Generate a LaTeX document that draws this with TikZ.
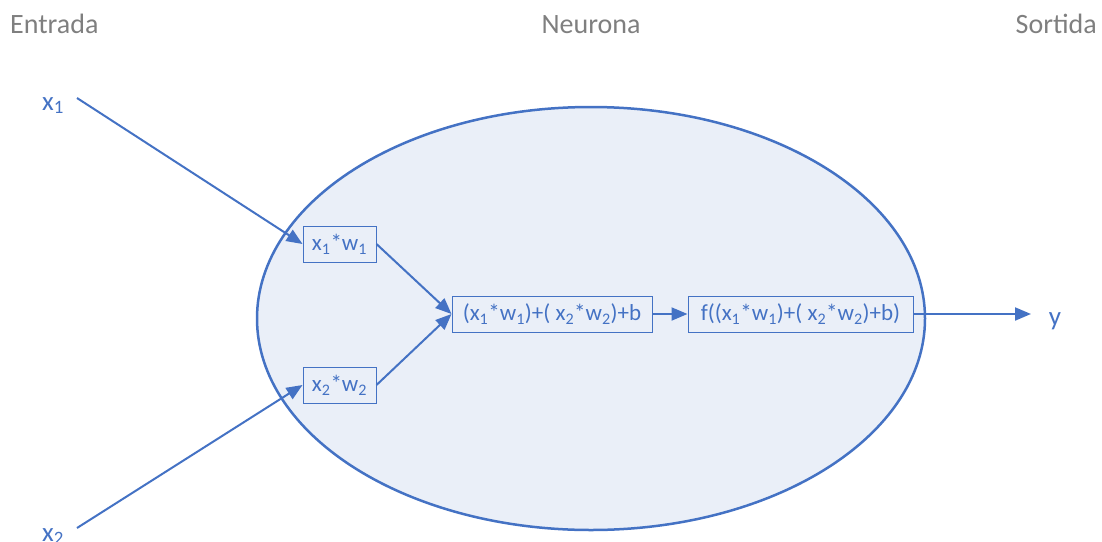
\documentclass[tikz,border=0pt]{standalone}
\usepackage{fontspec}
\setmainfont{Carlito}
\usetikzlibrary{arrows.meta,shapes.geometric}
\definecolor{cblue}{HTML}{4472C4}
\definecolor{cgray}{HTML}{7F7F7F}
\definecolor{cfill}{HTML}{EAEFF8}
\tikzset{
  hdr/.style={text=cgray, font=\fontsize{28}{32}\selectfont, inner sep=0pt},
  lbl/.style={text=cblue, font=\fontsize{27}{30}\selectfont, inner sep=0pt},
  opbox/.style={draw=cblue, line width=1pt, fill=cfill, text=cblue, font=\fontsize{23}{26}\selectfont, minimum height=36pt, inner sep=0pt},
  conn/.style={draw=cblue, line width=2pt, -{Triangle[length=16pt,width=13pt]}},
}
\begin{document}
\begin{tikzpicture}[x=1pt,y=-1pt]
\useasboundingbox (0,0) rectangle (1102,541);
\node[hdr, anchor=base west] (hin) at (10,33) {Entrada};
\node[hdr, anchor=base] (hneu) at (591,33) {Neurona};
\node[hdr, anchor=base east] (hout) at (1097,33) {Sortida};
\node[draw=cblue, line width=2.5pt, fill=cfill, ellipse, minimum width=668pt, minimum height=423pt, inner sep=0pt] (neu) at (591,318.5) {};
\node[opbox, minimum width=73pt] (b1) at (339.5,244) {x\textsubscript{1}*w\textsubscript{1}};
\node[opbox, minimum width=73pt] (b2) at (339.5,385) {x\textsubscript{2}*w\textsubscript{2}};
\node[opbox, minimum width=200pt] (b3) at (552,314) {(x\textsubscript{1}*w\textsubscript{1})+( x\textsubscript{2}*w\textsubscript{2})+b};
\node[opbox, minimum width=225pt] (b4) at (800.5,314) {f((x\textsubscript{1}*w\textsubscript{1})+( x\textsubscript{2}*w\textsubscript{2})+b)};
\node[lbl, anchor=base] (x1) at (53,110) {x\textsubscript{1}};
\node[lbl, anchor=base] (x2) at (53,541) {x\textsubscript{2}};
\node[lbl, anchor=base] (y) at (1055,325) {y};
\coordinate (s1) at (77,98);
\coordinate (s2) at (77,528);
\coordinate (ye) at (1031,314);
\draw[conn] (s1) -- (b1.west);
\draw[conn] (s2) -- (b2.west);
\draw[conn] (b1.east) -- (b3.west);
\draw[conn] (b2.east) -- (b3.west);
\draw[conn] (b3.east) -- (b4.west);
\draw[conn] (b4.east) -- (ye);
\end{tikzpicture}
\end{document}
